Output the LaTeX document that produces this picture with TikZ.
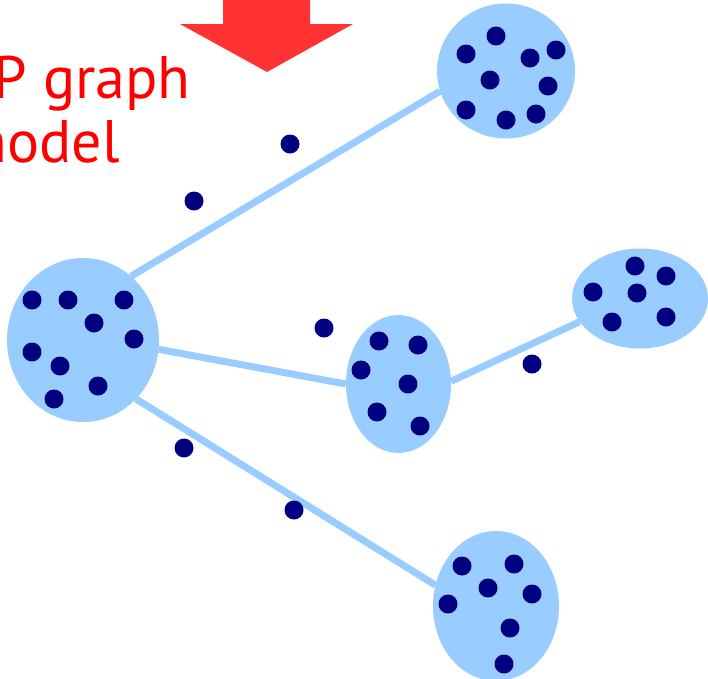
\documentclass[tikz,border=0pt]{standalone}
\usepackage{fontspec}
\setmainfont{PT Sans}
\usetikzlibrary{shapes.geometric}
\pgfdeclarelayer{background}
\pgfsetlayers{background,main}
\definecolor{cloud}{RGB}{153,204,255}
\definecolor{dotc}{RGB}{0,0,128}
\definecolor{arrowred}{RGB}{255,51,51}
\definecolor{textred}{RGB}{255,0,0}
\tikzset{
  group/.style={ellipse, fill=cloud, draw=none, inner sep=0pt},
  link/.style={draw=cloud, line width=7pt},
  dotnode/.style={circle, fill=dotc, draw=none, inner sep=0pt, minimum size=19pt},
  label/.style={text=textred, inner sep=0pt, font=\fontsize{60}{72}\selectfont}
}
\begin{document}
\begin{tikzpicture}[x=1pt,y=-1pt]
\useasboundingbox (0,0) rectangle (708,678);
\clip (0,0) rectangle (708,678);
% arrow
\fill[arrowred] (223,-2) -- (310,-2) -- (310,24) -- (353,24) -- (267,72) -- (180,24) -- (223,24) -- cycle;
% text
\node[label, anchor=base east] (t1) at (191,98) {P graph};
\node[label, anchor=base east] (t2) at (120,162) {model};
% groups
\node[group, minimum width=152pt, minimum height=164pt] (L) at (83,340) {};
\node[group, minimum width=138pt, minimum height=135pt] (TR) at (506,71) {};
\node[group, minimum width=105pt, minimum height=138pt] (M) at (398.5,384) {};
\node[group, minimum width=136pt, minimum height=100pt] (R) at (640,298.5) {};
\node[group, minimum width=126pt, minimum height=150pt] (B) at (496,606) {};
% links
\begin{pgfonlayer}{background}
\draw[link] (L.53) -- (TR.197);
\draw[link] (L.353) -- (M.180);
\draw[link] (L.312) -- (B.161);
\draw[link] (M.3) -- (R.201);
\end{pgfonlayer}
% dots in L
\foreach \p [count=\i] in {(32,300),(68,300),(124,300),(94,323),(134,339),(32,352),(60,366),(98,386),(54,399)}
  \node[dotnode] (l\i) at \p {};
% dots in TR
\foreach \p [count=\i] in {(496,36),(466,54),(530,58),(556,50),(490,80),(548,86),(466,110),(506,120),(536,114)}
  \node[dotnode] (tr\i) at \p {};
% dots in M
\foreach \p [count=\i] in {(379,341),(418,345),(361,370),(408,384),(377,412),(420,426)}
  \node[dotnode] (m\i) at \p {};
% dots in R
\foreach \p [count=\i] in {(635,266),(666,276),(593,292),(637,293),(612,322),(666,317)}
  \node[dotnode] (r\i) at \p {};
% dots in B
\foreach \p [count=\i] in {(462,566),(514,564),(488,588),(532,594),(448,604),(510,628),(504,664)}
  \node[dotnode] (b\i) at \p {};
% free dots
\foreach \p [count=\i] in {(290,144),(194,201),(324,328),(532,364),(184,448),(294,510)}
  \node[dotnode] (f\i) at \p {};
\end{tikzpicture}
\end{document}
